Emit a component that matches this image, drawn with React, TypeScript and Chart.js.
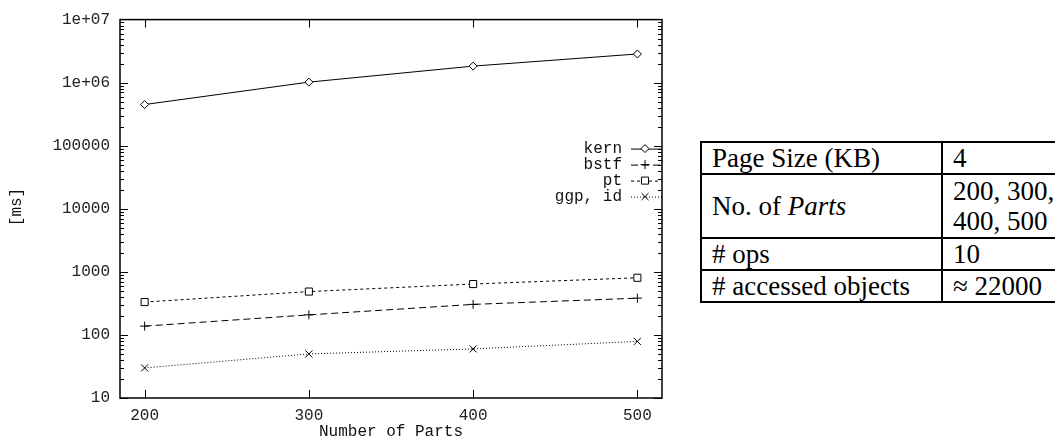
import React, { useEffect, useRef } from 'react';
import { Chart, registerables } from 'chart.js';
import { drawPoint } from 'chart.js/helpers';

Chart.register(...registerables);

const parts = [200, 300, 400, 500];
const kern = [450000, 1020000, 1830000, 2850000];
const bstf = [138, 208, 305, 383];
const pt = [332, 487, 641, 806];
const ggpId = [30, 50, 60, 79];
const seriesNames = ['kern', 'bstf', 'pt', 'ggp, id'];
const yTickValues = [10, 100, 1000, 10000, 100000, 1000000, 10000000];
const yTickLabels = ['10', '100', '1000', '10000', '100000', '1e+06', '1e+07'];
const xTickValues = [200, 300, 400, 500];
const xTitle = 'Number of Parts';
const yTitle = '[ms]';

const tableLabels = ['Page Size (KB)', 'No. of |Parts|', '# ops', '# accessed objects'];
const tableValues = [['4'], ['200, 300,', '400, 500'], ['10'], ['\u2248 22000']];

const MONO = '"Liberation Mono", "DejaVu Sans Mono", monospace';
const FS = 16;

const styles = [
  { pointStyle: 'rectRot', radius: 4, dash: [] as number[] },
  { pointStyle: 'cross', radius: 4.5, dash: [7, 4] },
  { pointStyle: 'rect', radius: 5, dash: [3, 3] },
  { pointStyle: 'crossRot', radius: 5, dash: [1, 2] },
];

const decorPlugin = {
  id: 'decor',
  afterDatasetsDraw(chart: any) {
    const { ctx, chartArea: a, scales } = chart;
    const xs = scales.x;
    const ys = scales.y;
    ctx.save();
    ctx.strokeStyle = '#000';
    ctx.lineWidth = 1.5;
    ctx.strokeRect(a.left, a.top, a.right - a.left, a.bottom - a.top);
    ctx.lineWidth = 1;
    ctx.beginPath();
    for (let e = 1; e < 7; e++) {
      for (let m = 1; m < 10; m++) {
        const v = m * Math.pow(10, e);
        const py = Math.round(ys.getPixelForValue(v)) + 0.5;
        const len = m === 1 ? 8 : 4;
        ctx.moveTo(a.left, py);
        ctx.lineTo(a.left + len, py);
        ctx.moveTo(a.right, py);
        ctx.lineTo(a.right - len, py);
      }
    }
    xTickValues.forEach((v) => {
      const px = Math.round(xs.getPixelForValue(v)) + 0.5;
      ctx.moveTo(px, a.bottom);
      ctx.lineTo(px, a.bottom - 8);
      ctx.moveTo(px, a.top);
      ctx.lineTo(px, a.top + 8);
    });
    ctx.stroke();

    // legend
    ctx.font = FS + 'px ' + MONO;
    ctx.fillStyle = '#111';
    ctx.textAlign = 'right';
    ctx.textBaseline = 'middle';
    chart.data.datasets.forEach((ds: any, i: number) => {
      const yy = a.top + 129 + i * 16;
      ctx.fillText(seriesNames[i], a.right - 40, yy);
      ctx.save();
      ctx.strokeStyle = '#000';
      ctx.lineWidth = 1;
      ctx.setLineDash(styles[i].dash);
      ctx.beginPath();
      ctx.moveTo(a.right - 31, yy + 0.5);
      ctx.lineTo(a.right, yy + 0.5);
      ctx.stroke();
      ctx.setLineDash([]);
      ctx.fillStyle = '#fff';
      drawPoint(ctx, { pointStyle: styles[i].pointStyle, radius: styles[i].radius, rotation: 0, borderWidth: 1 } as any, a.right - 17, yy);
      ctx.restore();
    });

    // axis titles
    ctx.fillStyle = '#111';
    ctx.textAlign = 'center';
    ctx.fillText(xTitle, (a.left + a.right) / 2, 432);
    ctx.save();
    ctx.translate(17, 207);
    ctx.rotate(-Math.PI / 2);
    ctx.fillText(yTitle, 0, 0);
    ctx.restore();
    ctx.restore();
  },
};

function ChartView() {
  const ref = useRef<HTMLCanvasElement | null>(null);
  useEffect(() => {
    if (!ref.current) return;
    const seriesData = [kern, bstf, pt, ggpId];
    const chart = new Chart(ref.current, {
      type: 'line',
      data: {
        datasets: seriesData.map((vals, i) => ({
          label: seriesNames[i],
          data: parts.map((p, j) => ({ x: p, y: vals[j] })),
          borderColor: '#000',
          borderWidth: 1,
          borderDash: styles[i].dash,
          pointStyle: styles[i].pointStyle as any,
          pointRadius: styles[i].radius,
          pointBorderColor: '#000',
          pointBackgroundColor: '#fff',
          pointBorderWidth: 1,
          fill: false,
          tension: 0,
        })),
      },
      options: {
        animation: false,
        responsive: true,
        maintainAspectRatio: false,
        layout: { padding: { top: 15, right: 28, left: 0, bottom: 0 } },
        plugins: { legend: { display: false }, tooltip: { enabled: false } },
        events: [],
        scales: {
          x: {
            type: 'linear',
            min: 185,
            max: 515,
            grid: { display: false, drawTicks: false },
            border: { display: false },
            afterBuildTicks: (s: any) => {
              s.ticks = xTickValues.map((v) => ({ value: v }));
            },
            afterFit: (s: any) => {
              s.height = 40;
            },
            ticks: {
              padding: 8,
              color: '#222',
              font: { family: MONO, size: FS },
              callback: (v: any) => String(v),
            },
          },
          y: {
            type: 'logarithmic',
            min: 10,
            max: 10000000,
            grid: { display: false, drawTicks: false },
            border: { display: false },
            afterBuildTicks: (s: any) => {
              s.ticks = yTickValues.map((v) => ({ value: v, major: true }));
            },
            afterFit: (s: any) => {
              s.width = 120;
            },
            ticks: {
              padding: 10,
              autoSkip: false,
              color: '#222',
              font: { family: MONO, size: FS },
              callback: (v: any) => {
                const idx = yTickValues.indexOf(Number(v));
                return idx >= 0 ? yTickLabels[idx] : '';
              },
            },
          },
        },
      },
      plugins: [decorPlugin],
    });
    return () => chart.destroy();
  }, []);
  return (
    <div style={{ position: 'absolute', left: 0, top: 0, width: 690, height: 438 }}>
      <canvas ref={ref} />
    </div>
  );
}

function renderLabel(s: string) {
  const segs = s.split('|');
  return segs.map((p, i) => (i % 2 === 1 ? <i key={i}>{p}</i> : <span key={i}>{p}</span>));
}

function ParamTable() {
  const rowHeights = [32, 64, 32, 32];
  return (
    <div
      style={{
        position: 'absolute',
        left: 700,
        top: 141,
        width: 420,
        borderTop: '2px solid #000',
        borderLeft: '2px solid #000',
        boxSizing: 'border-box',
        fontFamily: '"Liberation Serif", "DejaVu Serif", serif',
        fontSize: 27,
        color: '#000',
      }}
    >
      {tableLabels.map((lab, i) => (
        <div
          key={i}
          style={{ display: 'flex', height: rowHeights[i], borderBottom: '2px solid #000', boxSizing: 'border-box' }}
        >
          <div
            style={{
              width: 241,
              borderRight: '2px solid #000',
              boxSizing: 'border-box',
              display: 'flex',
              alignItems: 'center',
              paddingLeft: 10,
              whiteSpace: 'pre',
            }}
          >
            {renderLabel(lab)}
          </div>
          <div
            style={{
              display: 'flex',
              flexDirection: 'column',
              justifyContent: 'center',
              paddingLeft: 10,
              lineHeight: '30px',
              whiteSpace: 'pre',
            }}
          >
            {tableValues[i].map((v, j) => (
              <div key={j}>{v}</div>
            ))}
          </div>
        </div>
      ))}
    </div>
  );
}

export default function App() {
  return (
    <div style={{ position: 'fixed', left: 0, top: 0, width: 1055, height: 438, overflow: 'hidden', background: '#fff' }}>
      <ChartView />
      <ParamTable />
    </div>
  );
}
